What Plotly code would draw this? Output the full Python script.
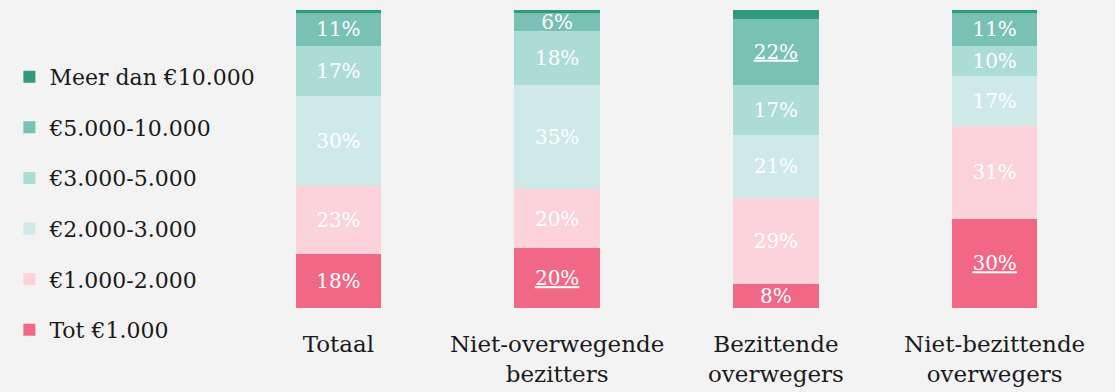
import plotly.graph_objects as go

# ── Data ──────────────────────────────────────────────────────────────────────
categorieen = [
    "Totaal",
    "Niet-overwegende<br>bezitters",
    "Bezittende<br>overwegers",
    "Niet-bezittende<br>overwegers",
]

tot_1000 = [18, 20, 8, 30]
eur_1000_2000 = [23, 20, 29, 31]
eur_2000_3000 = [30, 35, 21, 17]
eur_3000_5000 = [17, 18, 17, 10]
eur_5000_10000 = [11, 6, 22, 11]
meer_10000 = [1, 1, 3, 1]

# labels die in de bron onderstreept zijn (significant verschil)
onderstreept = {
    "Tot €1.000": [False, True, False, True],
    "€5.000-10.000": [False, False, True, False],
}

SERIES = [
    ("Tot €1.000", tot_1000, "#f06886"),
    ("€1.000-2.000", eur_1000_2000, "#fcd3db"),
    ("€2.000-3.000", eur_2000_3000, "#cfe9e9"),
    ("€3.000-5.000", eur_3000_5000, "#acdcd3"),
    ("€5.000-10.000", eur_5000_10000, "#78c1b4"),
    ("Meer dan €10.000", meer_10000, "#2f9a7d"),
]

FONT = "DejaVu Serif"
BG = "#f3f3f3"

fig = go.Figure()
for i, (naam, waarden, kleur) in enumerate(SERIES):
    ul = onderstreept.get(naam, [False] * len(waarden))
    tekst = []
    for v, u in zip(waarden, ul):
        if v < 5:
            tekst.append("")
        elif u:
            tekst.append(f"<u>{v}%</u>")
        else:
            tekst.append(f"{v}%")
    fig.add_trace(go.Bar(
        name=naam, x=categorieen, y=waarden,
        marker=dict(color=kleur, line_width=0),
        text=tekst, textposition="inside", insidetextanchor="middle",
        textfont=dict(color="white", size=20, family=FONT),
        legendgroup=str(i), legendrank=100 - i,
    ))

fig.update_layout(
    barmode="stack",
    bargap=0.61,
    width=1115, height=392,
    margin=dict(l=222, r=11, t=10, b=84),
    paper_bgcolor=BG, plot_bgcolor=BG,
    uniformtext=dict(minsize=20, mode="show"),
    font=dict(family=FONT, color="#1a1a1a"),
    legend=dict(
        traceorder="grouped", tracegroupgap=19,
        x=-0.251, xanchor="left", y=0.846, yanchor="top",
        maxheight=392,
        font=dict(size=22, family=FONT, color="#1a1a1a"),
        itemwidth=30, bgcolor="rgba(0,0,0,0)",
    ),
    xaxis=dict(
        showgrid=False, showline=False, zeroline=False, automargin=False,
        tickfont=dict(size=23, family=FONT, color="#1a1a1a"),
        ticklabelstandoff=20,
    ),
    yaxis=dict(
        visible=False, range=[0, 100], fixedrange=True,
    ),
)

fig.write_html(
    "out.html",
    config={"displayModeBar": False},
    post_script=f"document.body.style.margin='0';document.body.style.background='{BG}';",
)
